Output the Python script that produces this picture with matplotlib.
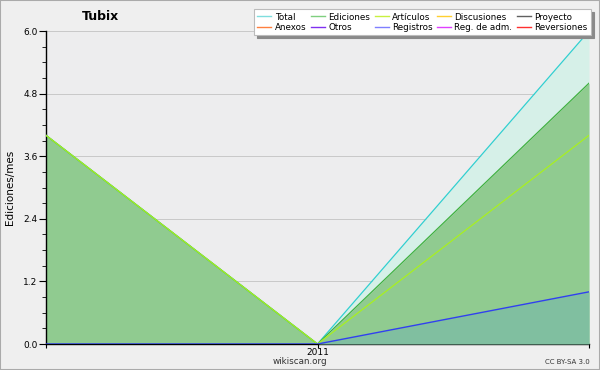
import matplotlib
matplotlib.use("Agg")
import matplotlib.pyplot as plt
from matplotlib.lines import Line2D
from matplotlib.ticker import MultipleLocator

# Data
x_pos = [0, 1, 2]
x_tick_labels = ["", "2011", ""]
total = [4, 0, 6]
ediciones = [4, 0, 5]
articulos = [4, 0, 4]
registros = [0, 0, 1]

legend_labels = ["Total", "Ediciones", "Artículos", "Discusiones", "Proyecto",
                 "Anexos", "Otros", "Registros", "Reg. de adm.", "Reversiones"]
legend_colors = ["#7fdede", "#7fcf7f", "#c8f040", "#ffd030", "#606060",
                 "#ff8040", "#8030f0", "#7f7fff", "#e040ff", "#ff3030"]

fig = plt.figure(figsize=(6, 3.7), dpi=100, facecolor="#efefef")
ax = fig.add_axes([46/600, 26/370, 543/600, 313/370])
ax.set_facecolor("#ededee")

ax.fill_between(x_pos, 0, total, color="#d6f0e8", lw=0, zorder=1)
ax.fill_between(x_pos, 0, ediciones, color="#90cb90", lw=0, zorder=2)
ax.fill_between(x_pos, 0, registros, color="#80bfa0", lw=0, zorder=3)
ax.plot(x_pos, total, color="#30d0d0", lw=0.9, zorder=4)
ax.plot(x_pos, ediciones, color="#40b040", lw=0.9, zorder=5)
ax.plot(x_pos, articulos, color="#a8f020", lw=0.9, zorder=6)
ax.plot(x_pos, registros, color="#3040f0", lw=1.0, zorder=7)

ax.set_xlim(0, 2)
ax.set_ylim(0, 6)
ax.yaxis.set_major_locator(MultipleLocator(1.2))
ax.yaxis.set_minor_locator(MultipleLocator(0.3))
ax.yaxis.set_major_formatter(matplotlib.ticker.FormatStrFormatter("%.1f"))
ax.set_xticks(x_pos)
ax.set_xticklabels(x_tick_labels)
ax.grid(axis="y", color="#c8c8c8", lw=0.7, zorder=0)
ax.set_axisbelow(True)
for s in ["top", "right"]:
    ax.spines[s].set_visible(False)
ax.spines["left"].set_linewidth(1.0)
ax.spines["bottom"].set_linewidth(1.0)
ax.tick_params(axis="y", which="major", length=5, labelsize=6.5, pad=1, colors="black")
ax.tick_params(axis="y", which="minor", length=3)
ax.tick_params(axis="x", length=3, labelsize=6.5, pad=0, direction="out")

fig.text(10/600, 1 - 187/370, "Ediciones/mes", fontsize=7.5, rotation=90, ha="center", va="center")
fig.text(100/600, 1 - 17/370, "Tubix", fontsize=9, fontweight="bold", ha="center", va="center")
fig.text(300/600, 1 - 362/370, "wikiscan.org", fontsize=6.3, ha="center", va="center", color="#333333")
fig.text(590/600, 1 - 362/370, "CC BY-SA 3.0", fontsize=5, ha="right", va="center", color="#333333")

order = [0, 5, 1, 6, 2, 7, 3, 8, 4, 9]
handles = [Line2D([], [], color=legend_colors[i], lw=1) for i in order]
labels = [legend_labels[i] for i in order]
leg = fig.legend(handles, labels, ncol=5, loc="upper right", bbox_to_anchor=(591/600, 1 - 9/370),
                 fontsize=6.3, frameon=True, fancybox=False,
                 shadow={"color": "#8a8a8a", "alpha": 1.0},
                 handlelength=1.6, handletextpad=0.4, columnspacing=0.5,
                 labelspacing=0.15, borderpad=0.4, borderaxespad=0)
leg.get_frame().set_edgecolor("#bbbbbb")
leg.get_frame().set_linewidth(0.8)

fig.patches.append(matplotlib.patches.Rectangle((0, 0), 1, 1, transform=fig.transFigure,
                                                fill=False, edgecolor="#aaaaaa", lw=1.5))
fig.savefig("out.png", dpi=100, facecolor=fig.get_facecolor())
